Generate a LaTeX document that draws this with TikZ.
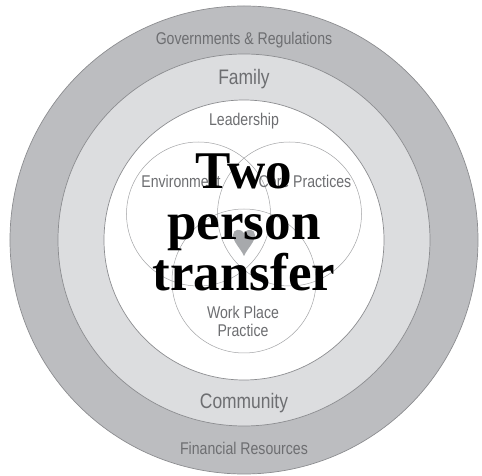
\documentclass[tikz,border=0pt]{standalone}
\usepackage{fontspec}
\newfontfamily\condfont[FakeStretch=0.83]{Liberation Sans}
\newfontfamily\titlefont{Liberation Serif}
\definecolor{ringouter}{HTML}{BCBDC0}
\definecolor{ringmid}{HTML}{DCDDDF}
\definecolor{ringline}{HTML}{8C8D90}
\definecolor{labelgray}{HTML}{6D6E71}
\definecolor{heartgray}{HTML}{A7A9AC}

\begin{document}
\begin{tikzpicture}[
    x=1pt, y=1pt,
    ring/.style={draw=ringline, line width=0.7pt},
    venn/.style={draw=ringline!80, line width=0.5pt},
    lbl/.style={text=labelgray, font=\condfont\fontsize{17}{17}\selectfont, inner sep=0pt},
    biglbl/.style={text=labelgray, font=\condfont\fontsize{21}{21}\selectfont, inner sep=0pt},
    title/.style={text=black, align=center, inner sep=0pt,
        font=\titlefont\bfseries\fontsize{53}{51}\selectfont}
]
\useasboundingbox (-244,-236) rectangle (238,240);

% Rings
\draw[ring, fill=ringouter] (0,0) circle (234);
\draw[ring, fill=ringmid]   (0,0) circle (186);
\draw[ring, fill=white]     (0,0) circle (140);

% Venn circles
\draw[venn] (-45.5,26) circle (72);
\draw[venn] ( 45.5,26) circle (72);
\draw[venn] (0,-41) circle (72);

% Heart
\fill[heartgray] (0,-16) .. controls (-3,-9) and (-11,-2) .. (-11,5)
    .. controls (-11,11) and (-3,12) .. (0,7)
    .. controls (3,12) and (11,11) .. (11,5)
    .. controls (11,-2) and (3,-9) .. (0,-16);

% Labels
\node[lbl]    (gov)  at (0,200)   {Governments \& Regulations};
\node[biglbl] (fam)  at (0,161)   {Family};
\node[lbl]    (lead) at (0,119)   {Leadership};
\node[lbl]    (env)  at (-63,59)  {Environment};
\node[lbl]    (core) at (61,59)   {Core Practices};
\node[lbl, align=center, font=\condfont\fontsize{17}{18}\selectfont]
              (work) at (-1,-81)  {Work Place\\Practice};
\node[biglbl] (comm) at (0,-163)  {Community};
\node[lbl]    (fin)  at (0,-208)  {Financial Resources};

% Title
\node[title] (two) at (0,18) {Two\\person\\transfer};

\end{tikzpicture}
\end{document}
